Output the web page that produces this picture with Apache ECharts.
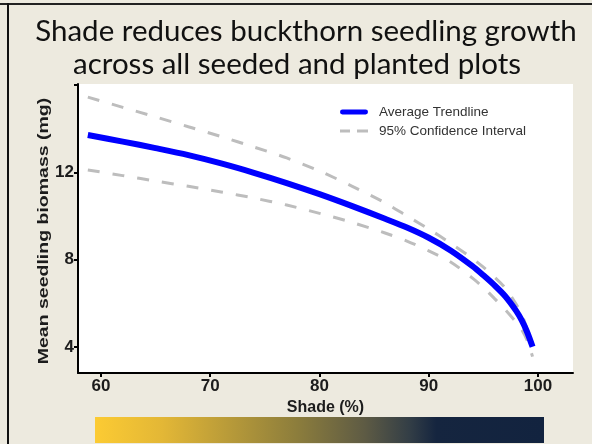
<!DOCTYPE html>
<html>
<head>
<meta charset="utf-8">
<script src="https://cdn.jsdelivr.net/npm/echarts@6/dist/echarts.min.js"></script>
<style>
  html, body { margin: 0; padding: 0; background: #EDEADF; }
  #chart { width: 592px; height: 444px; }
</style>
</head>
<body>
<div id="chart"></div>
<script>
// Shade level (%) at which each curve is sampled
const shade = [58.8, 62, 65, 68, 71, 74, 77, 80, 83, 86, 88, 90, 92, 94, 95, 96, 97, 98, 98.5, 99, 99.5];
// Fitted mean seedling biomass (mg)
const trend = [13.71, 13.41, 13.11, 12.79, 12.41, 11.98, 11.51, 11.00, 10.45, 9.87, 9.47, 9.00, 8.42, 7.70, 7.28, 6.83, 6.32, 5.65, 5.22, 4.68, 4.00];
// 95% confidence band
const upperCI = [15.45, 14.98, 14.54, 14.09, 13.64, 13.16, 12.66, 12.06, 11.36, 10.60, 10.00, 9.40, 8.75, 8.05, 7.65, 7.20, 6.70, 5.95, 5.50, 4.80, null];
const lowerCI = [12.11, 11.85, 11.60, 11.36, 11.10, 10.82, 10.50, 10.12, 9.70, 9.22, 8.85, 8.40, 7.89, 7.15, 6.72, 6.22, 5.70, 5.12, 4.80, 4.30, 3.55];
// Axis ticks and labels
const xTicks = [60, 70, 80, 90, 100];
const yTicks = [4, 8, 12, 16];
const yLabels = [4, 8, 12];

const pairs = (ys) => shade.map((x, i) => [x, ys[i]]).filter(p => p[1] !== null);

const sans = '"Liberation Sans", Arial, sans-serif';
const tickFont = { fontFamily: sans, fontWeight: 'bold', fontSize: 17, color: '#1c1c1c' };

const chart = echarts.init(document.getElementById('chart'), null, { renderer: 'canvas' });
chart.setOption({
  backgroundColor: '#EDEADF',
  animation: false,
  grid: { left: 78, right: 19, top: 84, bottom: 71, show: true, backgroundColor: '#fff', borderWidth: 0 },
  legend: {
    orient: 'vertical',
    left: 335,
    top: 100,
    itemWidth: 28,
    itemHeight: 5,
    itemGap: 5,
    data: [
      { name: 'Average Trendline', icon: 'path://M2,0H26A2.5,2.5,0,0,1,26,5H2A2.5,2.5,0,0,1,2,0Z' },
      { name: '95% Confidence Interval', icon: 'path://M0,1H10V4H0Z M17,1H28V4H17Z M0,0H0.01V5H0Z M27.99,0H28V5H27.99Z' }
    ],
    textStyle: { fontFamily: sans, fontSize: 13.5, color: '#333', padding: [0, 0, 0, 6] }
  },
  xAxis: {
    type: 'value',
    min: 57.9,
    max: 103.2,
    name: 'Shade (%)',
    nameLocation: 'middle',
    nameGap: 25,
    nameTextStyle: { fontFamily: sans, fontWeight: 'bold', fontSize: 16, color: '#1c1c1c' },
    splitLine: { show: false },
    axisLine: { onZero: false, lineStyle: { color: '#000', width: 2 } },
    axisTick: { length: 4, lineStyle: { color: '#000', width: 2 }, customValues: xTicks },
    axisLabel: Object.assign({ margin: 5, customValues: xTicks }, tickFont)
  },
  yAxis: {
    type: 'value',
    min: 2.8,
    max: 16.05,
    splitLine: { show: false },
    axisLine: { onZero: false, lineStyle: { color: '#000', width: 2 } },
    axisTick: { length: 4, lineStyle: { color: '#000', width: 2 }, customValues: yTicks },
    axisLabel: Object.assign({ margin: 4, customValues: yLabels }, tickFont)
  },
  series: [
    {
      name: '95% Confidence Interval',
      type: 'line',
      data: pairs(upperCI),
      smooth: 0.3,
      symbol: 'none',
      lineStyle: { color: '#BDBDBD', width: 3, type: [12, 13] },
      itemStyle: { color: '#BDBDBD' }
    },
    {
      name: '95% Confidence Interval',
      type: 'line',
      data: pairs(lowerCI),
      smooth: 0.3,
      symbol: 'none',
      lineStyle: { color: '#BDBDBD', width: 3, type: [12, 13] },
      itemStyle: { color: '#BDBDBD' }
    },
    {
      name: 'Average Trendline',
      type: 'line',
      data: pairs(trend),
      smooth: 0.3,
      symbol: 'none',
      z: 3,
      lineStyle: { color: '#0000FF', width: 6 },
      itemStyle: { color: '#0000FF' }
    }
  ],
  graphic: [
    // frame edges
    { type: 'rect', shape: { x: 0, y: 3, width: 592, height: 2 }, style: { fill: '#222' }, z: 100 },
    { type: 'rect', shape: { x: 7, y: 3, width: 2, height: 441 }, style: { fill: '#111' }, z: 100 },
    // heading, two centred lines
    {
      type: 'text', x: 306, y: 31,
      style: { text: 'Shade reduces buckthorn seedling growth', x: 0, y: 0, align: 'center', verticalAlign: 'middle',
               font: '29.5px Lato, "Open Sans", sans-serif', fill: '#111' }
    },
    {
      type: 'text', x: 297, y: 64,
      style: { text: 'across all seeded and planted plots', x: 0, y: 0, align: 'center', verticalAlign: 'middle',
               font: '29.5px Lato, "Open Sans", sans-serif', fill: '#111' }
    },
    // y axis title, slightly stretched along its length
    {
      type: 'text', x: 44, y: 231, rotation: Math.PI / 2, scaleX: 1.3,
      style: { text: 'Mean seedling biomass (mg)', x: 0, y: 0, align: 'center', verticalAlign: 'middle',
               font: 'bold 15px "Liberation Sans", Arial, sans-serif', fill: '#1c1c1c' }
    },
    // shade scale bar
    {
      type: 'rect',
      shape: { x: 95, y: 417, width: 449, height: 26 },
      style: {
        fill: new echarts.graphic.LinearGradient(0, 0, 1, 0, [
          { offset: 0, color: '#FCCB33' },
          { offset: 0.15, color: '#E3B736' },
          { offset: 0.45, color: '#8C7D3C' },
          { offset: 0.6, color: '#5E5B44' },
          { offset: 0.7, color: '#333E46' },
          { offset: 0.76, color: '#15253F' },
          { offset: 1, color: '#12233F' }
        ])
      }
    }
  ]
});
</script>
</body>
</html>
